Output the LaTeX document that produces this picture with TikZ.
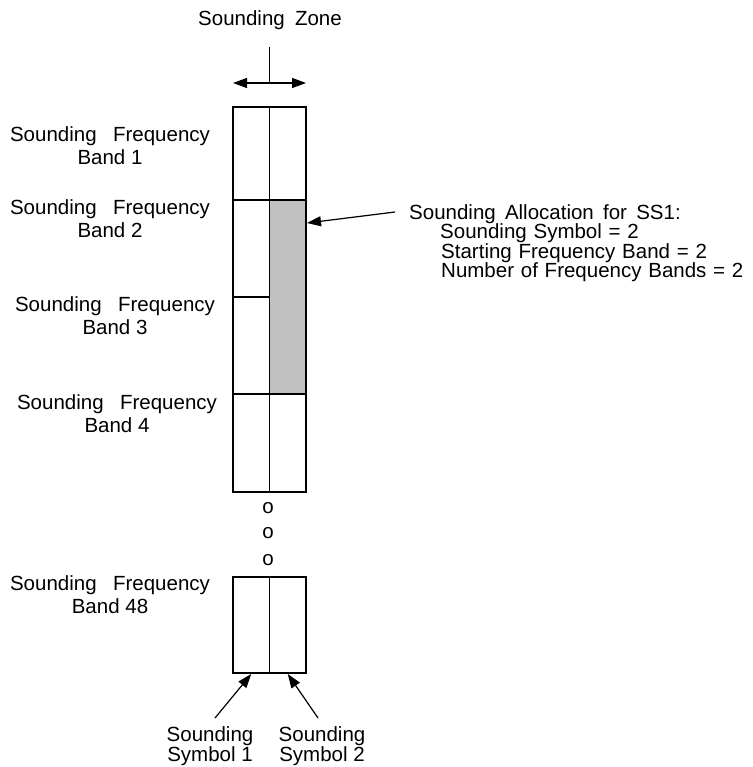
\documentclass[tikz,border=0pt]{standalone}
\usepackage{fontspec}
\setmainfont{Liberation Sans}
\usetikzlibrary{arrows.meta,calc}
\definecolor{alloc}{HTML}{C0C0C0}
\begin{document}
\begin{tikzpicture}[x=1pt,y=-1pt,
  lbl/.style={font=\fontsize{20.5}{23}\selectfont, align=center, inner sep=0pt},
  txt/.style={font=\fontsize{20.5}{23}\selectfont, inner sep=0pt, anchor=base west},
  cell/.style={draw, line width=1.3pt, inner sep=0pt, outer sep=0pt, minimum width=36.5pt},
  arr/.style={-{Triangle[length=14pt,width=10pt]}, line width=1.2pt},
  darr/.style={{Triangle[length=14pt,width=10pt]}-{Triangle[length=14pt,width=10pt]}, line width=1.2pt}
]
\useasboundingbox (0,0) rectangle (752,767);

% column cells
\node[cell, minimum height=93pt] (a1) at (251.25,153.5) {};
\node[cell, minimum height=93pt] (b1) at (287.75,153.5) {};
\node[cell, minimum height=97pt] (a2) at (251.25,248.5) {};
\node[cell, minimum height=97pt] (a3) at (251.25,345.5) {};
\node[cell, minimum height=194pt, fill=alloc] (b23) at (287.75,297) {};
\node[cell, minimum height=98pt] (a4) at (251.25,443) {};
\node[cell, minimum height=98pt] (b4) at (287.75,443) {};
\node[cell, minimum height=96pt] (a48) at (251.25,625) {};
\node[cell, minimum height=96pt] (b48) at (287.75,625) {};

% sounding zone
\node[lbl] (zone) at (270,20) {Sounding\hspace{0.5em}Zone};
\coordinate (zt) at (269.5,47);
\coordinate (zm) at (269.5,83);
\coordinate (zl) at (233,83);
\coordinate (zr) at (306,83);
\draw[line width=1.2pt] (zt) -- (zm);
\draw[darr] (zl) -- (zr);

% left labels
\node[lbl] (l1) at (110,146) {Sounding\hspace{0.8em}Frequency\\Band 1};
\node[lbl] (l2) at (110,218.5) {Sounding\hspace{0.8em}Frequency\\Band 2};
\node[lbl] (l3) at (115,316) {Sounding\hspace{0.8em}Frequency\\Band 3};
\node[lbl] (l4) at (117,414) {Sounding\hspace{0.8em}Frequency\\Band 4};
\node[lbl] (l48) at (110,594.5) {Sounding\hspace{0.8em}Frequency\\Band 48};

% dots
\node[lbl] (d1) at (268,508) {o};
\node[lbl] (d2) at (268,533) {o};
\node[lbl] (d3) at (268,560) {o};

% allocation text
\node[txt] (t1) at (409,219) {Sounding\hspace{0.45em}Allocation\hspace{0.45em}for\hspace{0.45em}SS1:};
\node[txt] (t2) at (440,238) {Sounding\hspace{0.33em}Symbol\hspace{0.33em}=\hspace{0.33em}2};
\node[txt] (t3) at (441,258) {Starting\hspace{0.33em}Frequency\hspace{0.33em}Band\hspace{0.33em}=\hspace{0.33em}2};
\node[txt] (t4) at (441,277) {Number\hspace{0.33em}of\hspace{0.33em}Frequency\hspace{0.33em}Bands\hspace{0.33em}=\hspace{0.33em}2};
\coordinate (as) at (395,212);
\draw[arr] (as) -- ($(b23.north east)+(1,23)$);

% bottom labels
\node[lbl] (s1) at (210,746) {Sounding\\[-3pt]Symbol 1};
\node[lbl] (s2) at (322,746) {Sounding\\[-3pt]Symbol 2};
\coordinate (s1a) at (215,718);
\coordinate (s2a) at (318,718);
\draw[arr] (s1a) -- ($(a48.south)+(0,1)$);
\draw[arr] (s2a) -- ($(b48.south)+(0,1)$);
\end{tikzpicture}
\end{document}
